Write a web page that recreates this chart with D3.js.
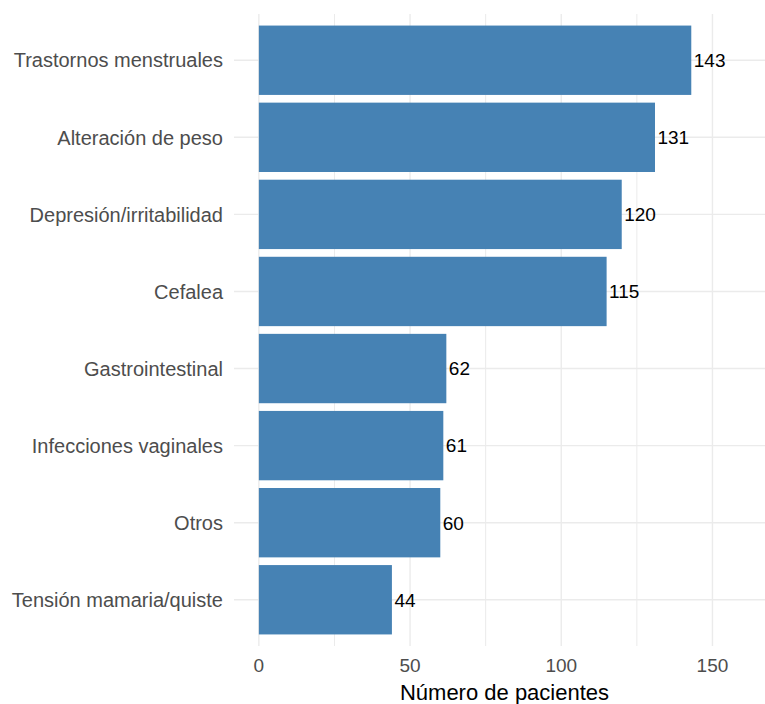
<!DOCTYPE html>
<html><head><meta charset="utf-8">
<script src="https://cdn.jsdelivr.net/npm/d3@7"></script>
<style>body{margin:0;background:#fff}svg{display:block}</style>
</head><body>
<script>
const categories = ["Trastornos menstruales","Alteración de peso","Depresión/irritabilidad","Cefalea","Gastrointestinal","Infecciones vaginales","Otros","Tensión mamaria/quiste"];
const values = [143,131,120,115,62,61,60,44];
const majorTicks = [0,50,100,150];
const minorTicks = [25,75,125];
const xTitle = "Número de pacientes";

const W=765,H=704;
const FONT="Liberation Sans, Arial, sans-serif";
const svg=d3.select("body").append("svg").attr("width",W).attr("height",H);
const panel={left:234,right:781,top:14,bottom:646};
const x=d3.scaleLinear().domain([-8.22,172.67]).range([panel.left,panel.right]);
const y=d3.scalePoint().domain(categories).range([panel.top,panel.bottom]).padding(0.6);
const yc=c=>y(c);
const unit=y.step();
const g=svg.append("g");
g.selectAll(".minor").data(minorTicks).enter().append("line")
 .attr("x1",d=>x(d)).attr("x2",d=>x(d)).attr("y1",panel.top).attr("y2",panel.bottom)
 .attr("stroke","#EBEBEB").attr("stroke-width",1);
g.selectAll(".major").data(majorTicks).enter().append("line")
 .attr("x1",d=>x(d)).attr("x2",d=>x(d)).attr("y1",panel.top).attr("y2",panel.bottom)
 .attr("stroke","#EBEBEB").attr("stroke-width",1.4);
g.selectAll(".hg").data(categories).enter().append("line")
 .attr("x1",panel.left).attr("x2",panel.right).attr("y1",d=>yc(d)).attr("y2",d=>yc(d))
 .attr("stroke","#EBEBEB").attr("stroke-width",1.4);
const bh=unit*0.9;
g.selectAll(".bar").data(values).enter().append("rect")
 .attr("x",x(0)).attr("y",(d,i)=>yc(categories[i])-bh/2)
 .attr("width",d=>x(d)-x(0)).attr("height",bh).attr("fill","#4682B4");
g.selectAll(".val").data(values).enter().append("text")
 .attr("x",d=>x(d)+2.5).attr("y",(d,i)=>yc(categories[i]))
 .attr("dy","0.36em").attr("font-family",FONT)
 .attr("font-size",19).attr("fill","#000").text(d=>d);
g.selectAll(".ylab").data(categories).enter().append("text")
 .attr("x",223).attr("y",d=>yc(d)).attr("dy","0.36em").attr("text-anchor","end")
 .attr("font-family",FONT).attr("font-size",20).attr("fill","#4D4D4D").text(d=>d);
g.selectAll(".xlab").data(majorTicks).enter().append("text")
 .attr("x",d=>x(d)).attr("y",659).attr("dy","0.71em").attr("text-anchor","middle")
 .attr("font-family",FONT).attr("font-size",19).attr("fill","#4D4D4D").text(d=>d);
svg.append("text").attr("x",(panel.left+panel.right)/2 - 3).attr("y",700).attr("text-anchor","middle")
 .attr("font-family",FONT).attr("font-size",22).attr("fill","#000").text(xTitle);
</script>
</body></html>
